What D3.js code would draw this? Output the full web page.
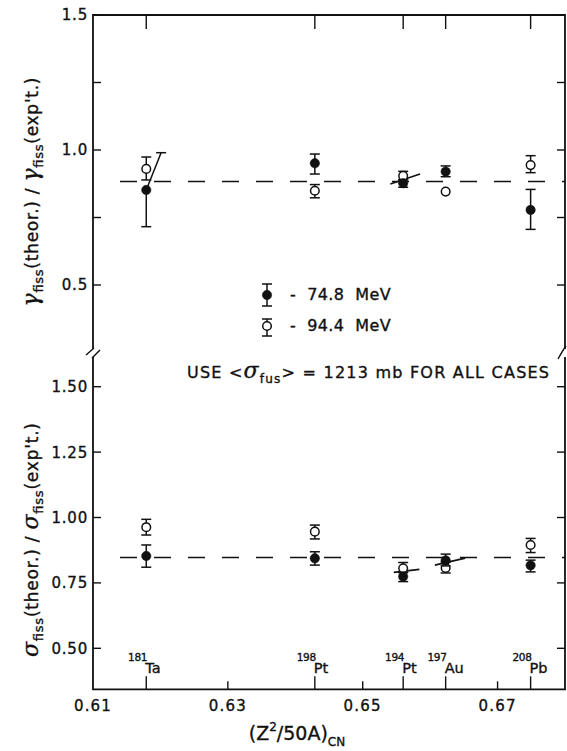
<!DOCTYPE html>
<html>
<head>
<meta charset="utf-8">
<script src="https://cdn.jsdelivr.net/npm/d3@7"></script>
<style>
  body { margin: 0; background: #fff; }
  svg { display: block; }
  text { font-family: "DejaVu Sans", "Liberation Sans", sans-serif; fill: #111; stroke: #111; stroke-width: 0.35; }
</style>
</head>
<body>
<svg id="chart" width="567" height="751"></svg>
<script>
// ---- data ---------------------------------------------------------------
// target nuclides and fissility parameter (Z^2/50A) of the compound nucleus
const massNumbers = ["181", "198", "194", "197", "208"];
const elements    = ["Ta", "Pt", "Pt", "Au", "Pb"];
const fissility   = [0.6179, 0.6429, 0.6560, 0.6623, 0.6749];

// Gamma_fiss(theor.)/Gamma_fiss(exp't.) at 74.8 MeV (filled) and 94.4 MeV (open)
const gammaLow     = [0.852, 0.951, 0.877, 0.920, 0.778];
const gammaLowMin  = [0.716, 0.911, 0.862, 0.901, 0.706];
const gammaLowMax  = [0.990, 0.985, 0.890, 0.941, 0.854];
const gammaHigh    = [0.930, 0.849, 0.904, 0.846, 0.944];
const gammaHighMin = [0.889, 0.823, 0.890, 0.846, 0.916];
const gammaHighMax = [0.974, 0.872, 0.921, 0.846, 0.979];

// sigma_fiss(theor.)/sigma_fiss(exp't.) at 74.8 MeV (filled) and 94.4 MeV (open)
const sigmaLow     = [0.853, 0.844, 0.774, 0.836, 0.817];
const sigmaLowMin  = [0.810, 0.818, 0.755, 0.815, 0.792];
const sigmaLowMax  = [0.895, 0.869, 0.790, 0.860, 0.837];
const sigmaHigh    = [0.963, 0.946, 0.806, 0.807, 0.895];
const sigmaHighMin = [0.933, 0.918, 0.790, 0.788, 0.866];
const sigmaHighMax = [0.993, 0.971, 0.828, 0.830, 0.920];

// mean ratios (dashed reference lines)
const gammaMean = 0.883;
const sigmaMean = 0.847;

// the upper bar of the 181Ta filled point is drawn leaning to the right, ending here
const taUpperBarX = 0.6201;

// short tilted strokes through overlapping points: [x0, v0, x1, v1]
const gammaStrokes = [[0.6541, 0.874, 0.6585, 0.911]];
const sigmaStrokes = [[0.6546, 0.790, 0.6584, 0.802], [0.6607, 0.818, 0.6652, 0.845]];

const xTicks      = [0.61, 0.63, 0.65, 0.67];
const gammaTicks  = [0.5, 0.75, 1.0, 1.25, 1.5];
const gammaLabels = ["0.5", "", "1.0", "", "1.5"];
const sigmaTicks  = [0.5, 0.75, 1.0, 1.25, 1.5];
const sigmaLabels = ["0.50", "0.75", "1.00", "1.25", "1.50"];

const legendLabels = ["-  74.8  MeV", "-  94.4  MeV"];

// ---- layout -------------------------------------------------------------
const svg = d3.select("#chart");
const x = d3.scaleLinear().domain([0.61, 0.68]).range([93, 565]);
const yTop = d3.scaleLinear().domain([0.5, 1.5]).range([285, 15]);
const yBot = d3.scaleLinear().domain([0.5, 1.5]).range([648.3, 386.7]);
const topPanel = { y0: 15, y1: 349 };
const botPanel = { y0: 357, y1: 689.3 };
const xL = x.range()[0], xR = x.range()[1];
const ink = "#111";

const frame = svg.append("g").attr("stroke", ink).attr("stroke-width", 1.8).attr("fill", "none");
// top panel frame (open at the bottom, where the axis is broken)
frame.append("path").attr("d", `M${xL},${topPanel.y1}V${topPanel.y0}H${xR}V${topPanel.y1}`);
// bottom panel frame
frame.append("path").attr("d", `M${xL},${botPanel.y0}V${botPanel.y1}H${xR}V${botPanel.y0}`);
// axis break marks
frame.append("path").attr("d", `M${xL-7},${topPanel.y1+6}L${xL+1},${topPanel.y1-1}`).attr("stroke-width", 1.4);
frame.append("path").attr("d", `M${xL-1},${botPanel.y0+1}L${xL+7},${botPanel.y0-7}`).attr("stroke-width", 1.4);
frame.append("path").attr("d", `M${xR-7},${botPanel.y0+2}Q${xR-2},${topPanel.y1+1} ${xR+1},${topPanel.y1-3}`).attr("stroke-width", 1.4);

// y axes with inward ticks on both sides
function yAxes(yS, ticks, labels) {
  const g = svg.append("g");
  ticks.forEach((t, i) => {
    const yy = yS(t);
    g.append("line").attr("x1", xL).attr("x2", xL + 8).attr("y1", yy).attr("y2", yy)
      .attr("stroke", ink).attr("stroke-width", 1.4);
    g.append("line").attr("x1", xR).attr("x2", xR - 8).attr("y1", yy).attr("y2", yy)
      .attr("stroke", ink).attr("stroke-width", 1.4);
    if (labels[i]) {
      g.append("text").attr("x", xL - 5).attr("y", yy).attr("dy", "0.36em")
        .attr("text-anchor", "end").attr("font-size", 15).attr("letter-spacing", 0.8).text(labels[i]);
    }
  });
}
yAxes(yTop, gammaTicks, gammaLabels);
yAxes(yBot, sigmaTicks, sigmaLabels);

// x axis: short ticks at round values, longer ticks at each nuclide
const xa = svg.append("g");
xTicks.forEach(t => {
  if (t > x.domain()[0]) {
    xa.append("line").attr("x1", x(t)).attr("x2", x(t)).attr("y1", botPanel.y1).attr("y2", botPanel.y1 - 8)
      .attr("stroke", ink).attr("stroke-width", 1.4);
  }
  xa.append("text").attr("x", x(t)).attr("y", botPanel.y1 + 22).attr("text-anchor", "middle")
    .attr("font-size", 15).attr("letter-spacing", 1.2).text(d3.format(".2f")(t));
});
fissility.forEach((f, i) => {
  xa.append("line").attr("x1", x(f)).attr("x2", x(f)).attr("y1", botPanel.y1).attr("y2", botPanel.y1 - 13)
    .attr("stroke", ink).attr("stroke-width", 1.4);
  xa.append("line").attr("x1", x(f)).attr("x2", x(f)).attr("y1", topPanel.y0).attr("y2", topPanel.y0 + 14)
    .attr("stroke", ink).attr("stroke-width", 1.4);
  xa.append("text").attr("x", x(f) + 1).attr("y", 661).attr("text-anchor", "end")
    .attr("font-size", 10.5).attr("letter-spacing", -0.3).text(massNumbers[i]);
  xa.append("text").attr("x", x(f) - 1).attr("y", 673).attr("font-size", 14.5).text(elements[i]);
});

// axis titles
const xt = svg.append("text").attr("x", 297).attr("y", 740).attr("font-size", 19).attr("text-anchor", "middle");
xt.append("tspan").text("(Z");
xt.append("tspan").attr("font-size", 12).attr("dy", -9).text("2");
xt.append("tspan").attr("dy", 9).text("/50A)");
xt.append("tspan").attr("font-size", 12).attr("dy", 6).text("CN");

function yTitle(cx, cy, len, sym) {
  const t = svg.append("text").attr("transform", `translate(${cx},${cy}) rotate(-90)`)
    .attr("x", -len / 2).attr("font-size", 17)
    .attr("textLength", len).attr("lengthAdjust", "spacing");
  t.append("tspan").attr("font-size", 22).attr("font-style", "italic").attr("font-family", "DejaVu Serif").text(sym);
  t.append("tspan").attr("font-size", 13).attr("dy", 5).text("fiss");
  t.append("tspan").attr("dy", -5).text("(theor.) / ");
  t.append("tspan").attr("font-size", 22).attr("font-style", "italic").attr("font-family", "DejaVu Serif").text(sym);
  t.append("tspan").attr("font-size", 13).attr("dy", 5).text("fiss");
  t.append("tspan").attr("dy", -5).text("(exp't.)");
}
yTitle(38, 192, 229, "γ");
yTitle(38, 540, 234, "σ");

// dashed mean lines
svg.append("line").attr("x1", x(0.614)).attr("x2", xR).attr("y1", yTop(gammaMean)).attr("y2", yTop(gammaMean))
  .attr("stroke", ink).attr("stroke-width", 1.5).attr("stroke-dasharray", "17,17");
svg.append("line").attr("x1", x(0.614)).attr("x2", xR).attr("y1", yBot(sigmaMean)).attr("y2", yBot(sigmaMean))
  .attr("stroke", ink).attr("stroke-width", 1.5).attr("stroke-dasharray", "17,17");

// tilted strokes
function strokes(list, yS) {
  list.forEach(s => {
    svg.append("line").attr("x1", x(s[0])).attr("y1", yS(s[1])).attr("x2", x(s[2])).attr("y2", yS(s[3]))
      .attr("stroke", ink).attr("stroke-width", 1.7);
  });
}
strokes(gammaStrokes, yTop);
strokes(sigmaStrokes, yBot);

// error bar + marker
const CAP = 5, R = 4.3;
function point(g, px, py, pMin, pMax, filled, upperX) {
  const ux = upperX === undefined ? px : upperX;
  if (pMax < py - 0.5) {
    g.append("line").attr("x1", px).attr("y1", py).attr("x2", ux).attr("y2", pMax)
      .attr("stroke", ink).attr("stroke-width", 1.5);
    g.append("line").attr("x1", ux - CAP).attr("x2", ux + CAP).attr("y1", pMax).attr("y2", pMax)
      .attr("stroke", ink).attr("stroke-width", 1.5);
  }
  if (pMin > py + 0.5) {
    g.append("line").attr("x1", px).attr("y1", py).attr("x2", px).attr("y2", pMin)
      .attr("stroke", ink).attr("stroke-width", 1.5);
    g.append("line").attr("x1", px - CAP).attr("x2", px + CAP).attr("y1", pMin).attr("y2", pMin)
      .attr("stroke", ink).attr("stroke-width", 1.5);
  }
  g.append("circle").attr("cx", px).attr("cy", py).attr("r", filled ? R + 0.4 : R)
    .attr("fill", filled ? ink : "#fff").attr("stroke", ink).attr("stroke-width", filled ? 0.5 : 1.5);
}

const marks = svg.append("g");
fissility.forEach((f, i) => {
  point(marks, x(f), yTop(gammaHigh[i]), yTop(gammaHighMin[i]), yTop(gammaHighMax[i]), false);
  point(marks, x(f), yTop(gammaLow[i]), yTop(gammaLowMin[i]), yTop(gammaLowMax[i]), true,
        i === 0 ? x(taUpperBarX) : undefined);
  point(marks, x(f), yBot(sigmaHigh[i]), yBot(sigmaHighMin[i]), yBot(sigmaHighMax[i]), false);
  point(marks, x(f), yBot(sigmaLow[i]), yBot(sigmaLowMin[i]), yBot(sigmaLowMax[i]), true);
});

// legend
const lg = svg.append("g");
point(lg, 267, 295, 306, 284, true);
point(lg, 267, 326, 336, 319, false);
lg.append("text").attr("x", 290).attr("y", 300).attr("font-size", 16).attr("letter-spacing", 0.4)
  .attr("xml:space", "preserve").style("white-space", "pre").text(legendLabels[0]);
lg.append("text").attr("x", 290).attr("y", 331).attr("font-size", 16).attr("letter-spacing", 0.4)
  .attr("xml:space", "preserve").style("white-space", "pre").text(legendLabels[1]);

// note
const note = svg.append("text").attr("x", 187).attr("y", 378).attr("font-size", 16)
  .attr("textLength", 362).attr("lengthAdjust", "spacing");
note.append("tspan").text("USE  <");
note.append("tspan").attr("font-size", 22).attr("font-style", "italic").attr("font-family", "DejaVu Serif").text("σ");
note.append("tspan").attr("font-size", 12).attr("dy", 5).text("fus");
note.append("tspan").attr("dy", -5).text(">  = 1213 mb  FOR  ALL  CASES");
</script>
</body>
</html>
